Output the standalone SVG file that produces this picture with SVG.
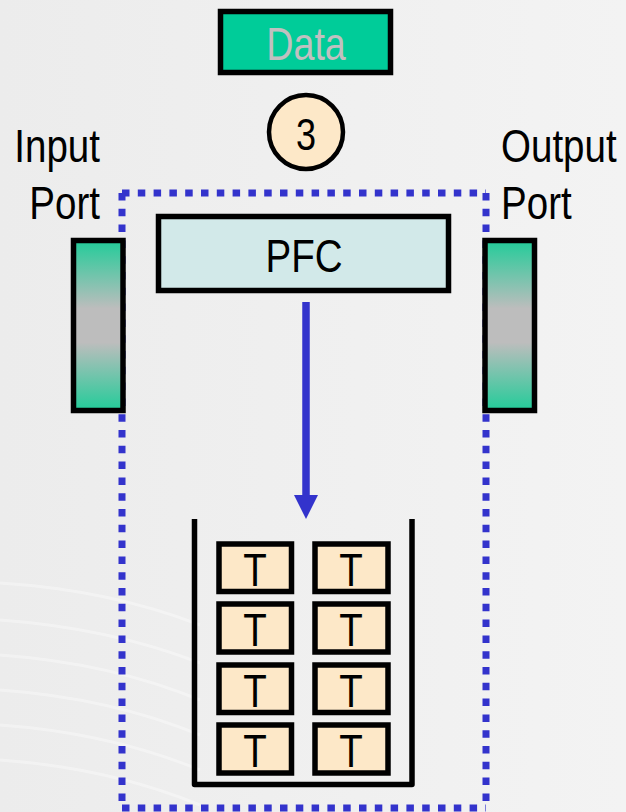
<svg xmlns="http://www.w3.org/2000/svg" width="626" height="812" viewBox="0 0 626 812">
<style>
.txt{font-family:"Liberation Sans",Arial,sans-serif;fill:#000}
.box{stroke:#000;stroke-width:5.5}
.tb{fill:#fde8c8;stroke:#000;stroke-width:5.5}
.dot{fill:none;stroke:#3333cc;stroke-width:7;stroke-dasharray:7.5 8.3}
.arc{fill:none;stroke:#ffffff;stroke-width:3;opacity:0.35}
</style>
<defs>
<linearGradient id="port" x1="0" y1="0" x2="0" y2="1">
<stop offset="0" stop-color="#22cc99"/>
<stop offset="0.4" stop-color="#bdbdbd"/>
<stop offset="0.6" stop-color="#bdbdbd"/>
<stop offset="1" stop-color="#22cc99"/>
</linearGradient>
<linearGradient id="bg" x1="0" y1="0" x2="1" y2="0">
<stop offset="0" stop-color="#ececec"/>
<stop offset="1" stop-color="#f3f3f3"/>
</linearGradient>
</defs>
<rect x="0" y="0" width="626" height="812" fill="url(#bg)"/>
<g id="background-arcs">
<path class="arc" d="M0,583 Q110,590 200,625"/>
<path class="arc" d="M0,620 Q110,628 200,663"/>
<path class="arc" d="M0,655 Q110,663 200,700"/>
<path class="arc" d="M0,690 Q110,698 200,735"/>
<path class="arc" d="M0,725 Q110,733 200,770"/>
<path class="arc" d="M0,760 Q110,768 200,805"/>
</g>
<g id="region">
<line class="dot" x1="122" y1="193" x2="486" y2="193"/>
<line class="dot" x1="122" y1="808" x2="486" y2="808"/>
<line class="dot" x1="122" y1="193" x2="122" y2="808"/>
<line class="dot" x1="486" y1="193" x2="486" y2="808"/>
</g>
<g id="data">
<rect class="box" x="220.5" y="11.5" width="170" height="61" fill="#00cc99"/>
<text class="txt" transform="translate(306,60) scale(0.82,1)" text-anchor="middle" font-size="46" style="fill:#c0c0c0">Data</text>
</g>
<g id="step3">
<circle cx="306" cy="132" r="37" fill="#fde8c8" stroke="#000" stroke-width="4.5"/>
<text class="txt" transform="translate(306,150) scale(0.82,1)" text-anchor="middle" font-size="44">3</text>
</g>
<g id="input-port">
<text class="txt" transform="translate(100,162) scale(0.82,1)" text-anchor="end" font-size="47">Input</text>
<text class="txt" transform="translate(100,219) scale(0.82,1)" text-anchor="end" font-size="47">Port</text>
<rect class="box" x="73.5" y="240.5" width="49.5" height="170" fill="url(#port)"/>
</g>
<g id="output-port">
<text class="txt" transform="translate(501,162) scale(0.82,1)" font-size="47">Output</text>
<text class="txt" transform="translate(501,219) scale(0.82,1)" font-size="47">Port</text>
<rect class="box" x="485" y="240.5" width="49.5" height="170" fill="url(#port)"/>
</g>
<g id="pfc">
<rect class="box" x="158.5" y="216.5" width="290" height="74" fill="#d2e9e9"/>
<text class="txt" transform="translate(304,272) scale(0.82,1)" text-anchor="middle" font-size="47">PFC</text>
</g>
<g id="connectors">
<line x1="306" y1="302" x2="306" y2="497" stroke="#3333cc" stroke-width="7.5"/>
<polygon points="294,495 318,495 306,519" fill="#3333cc"/>
</g>
<g id="queue">
<polyline points="194.5,519 194.5,784.5 412,784.5 412,519" fill="none" stroke="#000" stroke-width="5.5" stroke-linejoin="round"/>
</g>
<g id="t-boxes">
<g id="t11"><rect class="tb" x="219" y="544" width="72.5" height="47.5"/><text class="txt" transform="translate(255,586) scale(0.82,1)" text-anchor="middle" font-size="47">T</text></g>
<g id="t12"><rect class="tb" x="315" y="544" width="73" height="47.5"/><text class="txt" transform="translate(351,586) scale(0.82,1)" text-anchor="middle" font-size="47">T</text></g>
<g id="t21"><rect class="tb" x="219" y="604" width="72.5" height="48"/><text class="txt" transform="translate(255,646) scale(0.82,1)" text-anchor="middle" font-size="47">T</text></g>
<g id="t22"><rect class="tb" x="315" y="604" width="73" height="48"/><text class="txt" transform="translate(351,646) scale(0.82,1)" text-anchor="middle" font-size="47">T</text></g>
<g id="t31"><rect class="tb" x="219" y="665" width="72.5" height="47.5"/><text class="txt" transform="translate(255,707) scale(0.82,1)" text-anchor="middle" font-size="47">T</text></g>
<g id="t32"><rect class="tb" x="315" y="665" width="73" height="47.5"/><text class="txt" transform="translate(351,707) scale(0.82,1)" text-anchor="middle" font-size="47">T</text></g>
<g id="t41"><rect class="tb" x="219" y="725" width="72.5" height="48"/><text class="txt" transform="translate(255,767) scale(0.82,1)" text-anchor="middle" font-size="47">T</text></g>
<g id="t42"><rect class="tb" x="315" y="725" width="73" height="48"/><text class="txt" transform="translate(351,767) scale(0.82,1)" text-anchor="middle" font-size="47">T</text></g>
</g>
</svg>
